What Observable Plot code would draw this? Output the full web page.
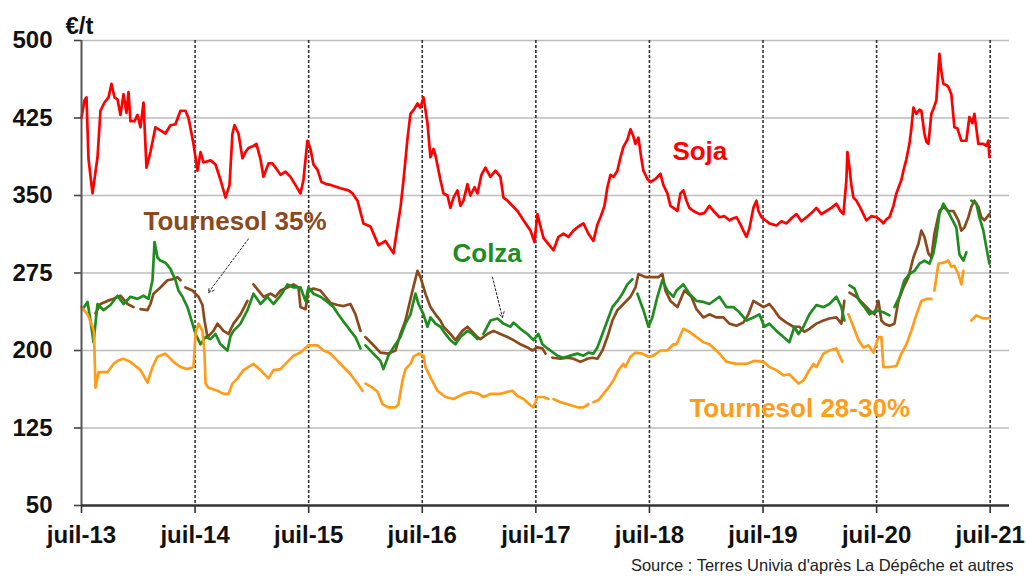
<!DOCTYPE html>
<html><head><meta charset="utf-8">
<script src="https://cdn.jsdelivr.net/npm/d3@7"></script>
<script src="https://cdn.jsdelivr.net/npm/@observablehq/plot@0.6"></script>
<style>body{margin:0;background:#fff;overflow:hidden}</style>
</head><body><div id="chart"></div>
<script>
// x is in decimal years (juil-13 = 2013.5)
const yTicks = [50,125,200,275,350,425,500];
const xTicks = [2013.5,2014.5,2015.5,2016.5,2017.5,2018.5,2019.5,2020.5,2021.5];
const xTickLabels = ["juil-13","juil-14","juil-15","juil-16","juil-17","juil-18","juil-19","juil-20","juil-21"];
const seriesNames = ["Soja","Tournesol 35%","Colza","Tournesol 28-30%"];
const seriesColors = ["#ff0000","#8b4a1e","#1f8c1f","#ff9c1a"];

const soja = [[2013.500,425],[2013.526,442],[2013.544,445],[2013.562,385],[2013.597,352],[2013.641,387],[2013.667,432],[2013.702,440],[2013.738,445],[2013.764,458],[2013.790,445],[2013.817,443],[2013.843,428],[2013.870,448],[2013.896,430],[2013.914,450],[2013.931,422],[2013.967,422],[2013.993,428],[2014.019,416],[2014.046,440],[2014.072,377],[2014.107,392],[2014.151,416],[2014.195,413],[2014.239,410],[2014.283,418],[2014.327,419],[2014.371,432],[2014.415,432],[2014.442,425],[2014.486,400],[2014.521,374],[2014.548,392],[2014.574,382],[2014.636,384],[2014.680,380],[2014.724,365],[2014.768,348],[2014.803,360],[2014.829,410],[2014.847,418],[2014.882,410],[2014.917,386],[2014.944,392],[2014.970,396],[2015.014,398],[2015.040,400],[2015.076,385],[2015.102,368],[2015.146,381],[2015.181,381],[2015.208,377],[2015.252,370],[2015.296,373],[2015.340,368],[2015.384,360],[2015.428,352],[2015.454,365],[2015.489,403],[2015.516,395],[2015.542,380],[2015.577,375],[2015.613,363],[2015.657,361],[2015.701,360],[2015.780,357],[2015.850,355],[2015.886,352],[2015.930,345],[2015.982,323],[2016.044,320],[2016.114,302],[2016.176,306],[2016.247,294],[2016.282,320],[2016.308,338],[2016.335,365],[2016.370,405],[2016.396,429],[2016.431,434],[2016.458,439],[2016.484,435],[2016.511,445],[2016.546,420],[2016.572,387],[2016.599,395],[2016.616,389],[2016.660,365],[2016.687,352],[2016.722,350],[2016.748,338],[2016.775,348],[2016.810,355],[2016.836,340],[2016.863,345],[2016.898,361],[2016.924,350],[2016.960,358],[2016.986,352],[2017.021,370],[2017.056,377],[2017.100,368],[2017.144,374],[2017.188,368],[2017.215,348],[2017.250,345],[2017.276,342],[2017.338,335],[2017.391,326],[2017.453,316],[2017.488,305],[2017.514,332],[2017.541,320],[2017.567,309],[2017.611,303],[2017.655,297],[2017.699,310],[2017.743,313],[2017.787,310],[2017.831,316],[2017.875,320],[2017.919,323],[2017.963,313],[2018.007,306],[2018.042,322],[2018.069,329],[2018.104,340],[2018.130,358],[2018.157,370],[2018.183,368],[2018.218,374],[2018.245,387],[2018.271,397],[2018.306,404],[2018.333,414],[2018.359,407],[2018.377,400],[2018.403,406],[2018.430,385],[2018.447,374],[2018.482,366],[2018.509,363],[2018.553,366],[2018.597,371],[2018.623,360],[2018.658,352],[2018.685,340],[2018.711,338],[2018.746,335],[2018.773,352],[2018.799,355],[2018.826,345],[2018.852,338],[2018.887,335],[2018.940,332],[2018.984,333],[2019.028,340],[2019.072,334],[2019.116,329],[2019.160,330],[2019.204,326],[2019.239,328],[2019.266,329],[2019.301,322],[2019.327,316],[2019.354,310],[2019.380,318],[2019.415,338],[2019.442,345],[2019.460,335],[2019.486,329],[2019.521,326],[2019.556,323],[2019.618,321],[2019.662,325],[2019.706,323],[2019.750,328],[2019.794,332],[2019.838,325],[2019.882,329],[2019.926,333],[2019.970,338],[2020.014,332],[2020.058,335],[2020.102,338],[2020.146,342],[2020.181,335],[2020.208,332],[2020.234,365],[2020.243,392],[2020.261,377],[2020.278,360],[2020.296,348],[2020.322,345],[2020.357,338],[2020.410,326],[2020.454,330],[2020.498,329],[2020.534,326],[2020.560,323],[2020.586,327],[2020.613,329],[2020.648,340],[2020.674,352],[2020.701,360],[2020.718,365],[2020.736,374],[2020.762,385],[2020.789,400],[2020.806,415],[2020.824,435],[2020.850,429],[2020.877,433],[2020.894,432],[2020.921,410],[2020.938,402],[2020.956,400],[2020.982,429],[2021.000,434],[2021.026,442],[2021.053,487],[2021.070,470],[2021.088,458],[2021.114,457],[2021.132,455],[2021.158,448],[2021.185,416],[2021.211,415],[2021.246,403],[2021.290,403],[2021.317,426],[2021.343,420],[2021.361,429],[2021.378,415],[2021.396,400],[2021.440,400],[2021.466,398],[2021.484,403],[2021.493,387]];

const tournesol35 = [[2013.623,236],[2013.667,245],[2013.729,248],[2013.782,250],[2013.843,253],[2013.905,245],[2013.958,242],[2013.990,null],[2014.019,240],[2014.081,239],[2014.107,245],[2014.134,255],[2014.195,261],[2014.257,268],[2014.301,269],[2014.345,271],[2014.371,268],[2014.393,null],[2014.415,261],[2014.477,258],[2014.530,252],[2014.565,244],[2014.583,229],[2014.609,213],[2014.662,219],[2014.697,226],[2014.750,219],[2014.794,216],[2014.838,226],[2014.900,235],[2014.961,248],[2014.988,null],[2015.014,264],[2015.058,258],[2015.102,252],[2015.164,255],[2015.208,252],[2015.252,258],[2015.313,261],[2015.366,264],[2015.410,261],[2015.428,242],[2015.472,240],[2015.498,258],[2015.542,260],[2015.604,258],[2015.648,252],[2015.692,246],[2015.754,244],[2015.806,243],[2015.868,245],[2015.912,235],[2015.956,219],[2015.978,null],[2016.000,213],[2016.062,206],[2016.132,198],[2016.202,197],[2016.264,200],[2016.308,216],[2016.352,229],[2016.414,258],[2016.458,277],[2016.484,271],[2016.528,255],[2016.572,242],[2016.616,235],[2016.660,229],[2016.687,223],[2016.748,216],[2016.792,210],[2016.853,219],[2016.898,223],[2016.942,218],[2016.986,213],[2017.012,211],[2017.074,216],[2017.127,219],[2017.188,216],[2017.250,213],[2017.303,210],[2017.364,206],[2017.426,203],[2017.470,200],[2017.514,203],[2017.558,202],[2017.585,197],[2017.615,null],[2017.646,193],[2017.716,192],[2017.778,193],[2017.831,192],[2017.892,189],[2017.954,192],[2017.998,193],[2018.042,192],[2018.086,200],[2018.130,213],[2018.174,229],[2018.218,239],[2018.271,245],[2018.333,252],[2018.377,261],[2018.403,274],[2018.465,271],[2018.526,271],[2018.579,271],[2018.614,274],[2018.641,258],[2018.685,248],[2018.746,242],[2018.808,258],[2018.870,252],[2018.914,240],[2018.975,232],[2019.028,235],[2019.090,232],[2019.151,232],[2019.204,226],[2019.266,224],[2019.327,227],[2019.371,235],[2019.415,248],[2019.460,245],[2019.504,242],[2019.556,245],[2019.600,239],[2019.644,232],[2019.706,227],[2019.768,223],[2019.820,223],[2019.864,218],[2019.908,221],[2019.970,226],[2020.032,229],[2020.084,231],[2020.146,232],[2020.190,226],[2020.216,248],[2020.238,null],[2020.261,256],[2020.322,252],[2020.384,245],[2020.437,239],[2020.481,235],[2020.516,248],[2020.542,229],[2020.569,226],[2020.613,224],[2020.657,226],[2020.692,248],[2020.736,261],[2020.780,271],[2020.824,290],[2020.868,303],[2020.894,316],[2020.921,310],[2020.956,294],[2020.982,290],[2021.009,313],[2021.053,335],[2021.088,339],[2021.132,335],[2021.176,335],[2021.220,326],[2021.246,316],[2021.273,319],[2021.308,329],[2021.334,339],[2021.361,345],[2021.396,339],[2021.422,329],[2021.449,326],[2021.493,332]];

const colza = [[2013.509,240],[2013.553,247],[2013.579,229],[2013.606,208],[2013.641,245],[2013.694,239],[2013.755,244],[2013.817,253],[2013.870,245],[2013.931,252],[2013.993,250],[2014.046,253],[2014.090,250],[2014.125,268],[2014.143,305],[2014.169,290],[2014.195,287],[2014.239,285],[2014.283,279],[2014.327,268],[2014.354,258],[2014.389,252],[2014.433,242],[2014.477,226],[2014.504,216],[2014.548,206],[2014.592,213],[2014.636,211],[2014.680,216],[2014.724,206],[2014.785,200],[2014.812,214],[2014.838,219],[2014.900,226],[2014.961,239],[2015.014,255],[2015.076,245],[2015.137,252],[2015.190,245],[2015.252,253],[2015.313,264],[2015.366,261],[2015.428,261],[2015.472,248],[2015.498,261],[2015.542,255],[2015.604,252],[2015.665,247],[2015.718,242],[2015.754,236],[2015.806,228],[2015.842,223],[2015.868,219],[2015.912,213],[2015.956,202],[2015.978,null],[2016.000,205],[2016.070,197],[2016.132,190],[2016.158,182],[2016.202,195],[2016.246,203],[2016.308,213],[2016.352,226],[2016.396,235],[2016.440,255],[2016.467,245],[2016.511,235],[2016.546,223],[2016.572,232],[2016.616,226],[2016.660,223],[2016.704,216],[2016.748,210],[2016.792,206],[2016.836,213],[2016.898,219],[2016.942,216],[2016.986,211],[2017.012,null],[2017.039,216],[2017.100,229],[2017.162,231],[2017.215,226],[2017.276,223],[2017.303,227],[2017.364,221],[2017.426,216],[2017.479,210],[2017.523,216],[2017.558,206],[2017.602,202],[2017.628,200],[2017.690,195],[2017.743,193],[2017.804,195],[2017.866,197],[2017.919,195],[2017.963,198],[2018.007,197],[2018.042,203],[2018.086,216],[2018.130,229],[2018.174,242],[2018.218,248],[2018.262,255],[2018.306,264],[2018.350,269],[2018.372,null],[2018.394,255],[2018.447,239],[2018.491,223],[2018.526,232],[2018.570,252],[2018.614,268],[2018.658,258],[2018.711,252],[2018.738,258],[2018.799,264],[2018.852,255],[2018.914,248],[2018.975,247],[2019.028,245],[2019.116,252],[2019.178,242],[2019.239,242],[2019.292,237],[2019.354,229],[2019.415,232],[2019.468,235],[2019.512,223],[2019.556,226],[2019.618,219],[2019.680,213],[2019.732,208],[2019.776,223],[2019.812,216],[2019.856,223],[2019.908,235],[2019.970,244],[2020.032,242],[2020.084,245],[2020.146,252],[2020.190,242],[2020.216,229],[2020.238,null],[2020.261,263],[2020.305,260],[2020.349,248],[2020.393,242],[2020.437,235],[2020.498,239],[2020.560,237],[2020.613,234],[2020.635,null],[2020.657,242],[2020.701,252],[2020.745,268],[2020.789,274],[2020.833,277],[2020.877,284],[2020.921,287],[2020.965,284],[2021.000,294],[2021.026,310],[2021.053,332],[2021.088,342],[2021.141,332],[2021.202,319],[2021.229,293],[2021.264,287],[2021.290,295],[2021.312,null],[2021.334,345],[2021.378,342],[2021.405,329],[2021.440,316],[2021.466,300],[2021.493,284]];

const tournesol2830 = [[2013.500,242],[2013.553,235],[2013.597,223],[2013.610,218],[2013.623,164],[2013.650,179],[2013.729,179],[2013.782,187],[2013.817,190],[2013.870,192],[2013.931,189],[2013.975,185],[2014.019,181],[2014.081,169],[2014.125,184],[2014.169,194],[2014.239,197],[2014.310,189],[2014.371,184],[2014.433,182],[2014.486,184],[2014.504,216],[2014.530,226],[2014.565,219],[2014.583,197],[2014.592,168],[2014.618,164],[2014.697,161],[2014.750,158],[2014.794,158],[2014.829,168],[2014.873,173],[2014.926,181],[2015.014,187],[2015.076,181],[2015.146,173],[2015.190,181],[2015.252,182],[2015.296,187],[2015.366,195],[2015.428,198],[2015.498,205],[2015.577,205],[2015.630,200],[2015.692,197],[2015.754,190],[2015.806,184],[2015.868,177],[2015.930,168],[2015.974,161],[2015.987,null],[2016.000,168],[2016.062,164],[2016.106,160],[2016.150,148],[2016.202,145],[2016.264,145],[2016.290,148],[2016.326,171],[2016.352,182],[2016.396,187],[2016.423,194],[2016.467,197],[2016.511,195],[2016.528,184],[2016.572,174],[2016.634,161],[2016.704,155],[2016.775,153],[2016.863,158],[2016.924,160],[2016.995,158],[2017.039,155],[2017.100,158],[2017.188,158],[2017.250,160],[2017.294,161],[2017.338,156],[2017.391,153],[2017.453,147],[2017.479,145],[2017.514,155],[2017.567,155],[2017.611,153],[2017.633,null],[2017.655,153],[2017.716,150],[2017.778,148],[2017.866,145],[2017.919,145],[2017.963,148],[2017.985,null],[2018.007,150],[2018.051,152],[2018.095,158],[2018.139,164],[2018.183,171],[2018.227,181],[2018.271,187],[2018.289,184],[2018.333,194],[2018.377,198],[2018.438,197],[2018.491,194],[2018.535,195],[2018.597,200],[2018.658,200],[2018.711,206],[2018.738,206],[2018.799,221],[2018.852,218],[2018.914,213],[2018.975,208],[2019.028,206],[2019.116,197],[2019.178,189],[2019.266,187],[2019.354,187],[2019.424,190],[2019.504,189],[2019.556,184],[2019.618,181],[2019.680,176],[2019.732,177],[2019.812,168],[2019.856,171],[2019.908,181],[2019.944,187],[2019.970,184],[2020.032,197],[2020.084,200],[2020.146,202],[2020.173,195],[2020.199,189],[2020.225,null],[2020.252,235],[2020.296,223],[2020.340,210],[2020.384,203],[2020.428,205],[2020.472,198],[2020.516,213],[2020.542,213],[2020.560,184],[2020.613,184],[2020.674,185],[2020.718,197],[2020.762,206],[2020.806,219],[2020.833,229],[2020.868,240],[2020.894,248],[2020.938,250],[2020.982,250],[2020.995,null],[2021.009,258],[2021.044,284],[2021.088,285],[2021.132,287],[2021.158,281],[2021.185,282],[2021.220,274],[2021.246,264],[2021.264,277],[2021.300,null],[2021.334,229],[2021.378,234],[2021.440,231],[2021.493,231]];

// annotation anchors (decimal year, €/t)
const labelPos = [[2018.702,392],[2014.046,325],[2016.766,294],[2018.852,144]];
const arrowsFromTo = [[2014.970,308,2014.618,256],[2017.118,271,2017.206,232]];

const allSeries = [soja, tournesol35, colza, tournesol2830];
const rows = allSeries.map(arr => arr.map(([t, v]) => ({t, v})));
const labels = seriesNames.map((name, i) => ({name, t: labelPos[i][0], v: labelPos[i][1], color: seriesColors[i]}));
const arrows = arrowsFromTo.map(([x1,y1,x2,y2]) => ({x1,y1,x2,y2}));

const FONT = "'Liberation Sans', Arial, sans-serif";
const chart = Plot.plot({
  width: 1026, height: 576,
  marginLeft: 81, marginRight: 17, marginTop: 40, marginBottom: 71,
  style: {fontFamily: FONT, background: "#fff", overflow: "visible"},
  x: {domain: [2013.5, 2021.67]},
  y: {domain: [50, 500]},
  marks: [
    Plot.ruleY(yTicks.filter(d => d > 50), {stroke: "#bdbdbd", strokeWidth: 1.3}),
    Plot.ruleX(xTicks.slice(1), {stroke: "#333", strokeWidth: 1.6, strokeDasharray: "3,2"}),
    Plot.axisX({ticks: xTicks, tickFormat: d => xTickLabels[xTicks.indexOf(d)], tickSize: 8, tickPadding: 12,
      fontSize: 24, fontWeight: "bold", fill: "#111", stroke: "#333", strokeWidth: 1.6, label: null}),
    Plot.axisY({ticks: yTicks, tickSize: 7, tickPadding: 22, fontSize: 24, fontWeight: "bold", fill: "#111",
      stroke: "#444", strokeWidth: 1.6, label: null}),
    ...rows.map((r, i) => Plot.line(r, {x: "t", y: "v", stroke: seriesColors[i], strokeWidth: 2.7, curve: "linear"})),
    Plot.ruleX([2013.5], {stroke: "#555", strokeWidth: 2}),
    Plot.ruleY([50], {stroke: "#333", strokeWidth: 2.6}),
    Plot.arrow(arrows, {x1: "x1", y1: "y1", x2: "x2", y2: "y2", stroke: "#222", strokeWidth: 1, strokeDasharray: "2,2", headLength: 9}),
    Plot.text(labels, {x: "t", y: "v", text: "name", fill: "color", textAnchor: "start", lineAnchor: "middle",
      fontSize: 26, fontWeight: "bold"}),
    Plot.text(["€/t"], {frameAnchor: "top-left", dx: -16, dy: -14, text: d => d, textAnchor: "start", lineAnchor: "middle",
      fontSize: 24, fontWeight: "bold", fill: "#111"}),
    Plot.text(["Source : Terres Univia d'après La Dépêche et autres"], {frameAnchor: "bottom-right", dx: 4, dy: 60,
      text: d => d, textAnchor: "end", lineAnchor: "middle", fontSize: 16.5, fill: "#222"})
  ]
});
document.getElementById("chart").appendChild(chart);
</script>
</body></html>
